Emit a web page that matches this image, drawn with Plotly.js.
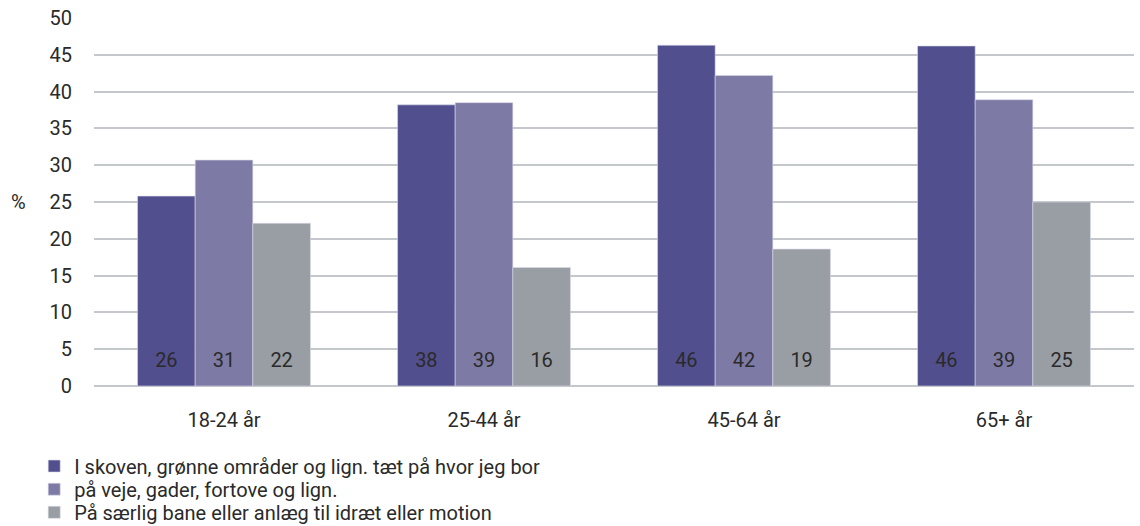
<!DOCTYPE html>
<html><head><meta charset="utf-8">
<script src="https://cdn.plot.ly/plotly-3.0.1.min.js"></script>
<style>html,body{margin:0;padding:0;background:#fff}#chart{width:1140px;height:526px}</style>
</head><body><div id="chart"></div>
<script>
var categories = ["18-24 år", "25-44 år", "45-64 år", "65+ år"];
var seriesNames = [
  "I skoven, grønne områder og lign. tæt på hvor jeg bor",
  "på veje, gader, fortove og lign.",
  "På særlig bane eller anlæg til idræt eller motion"
];
var skoven = [25.8, 38.2, 46.3, 46.2];
var veje = [30.7, 38.5, 42.2, 38.9];
var bane = [22.1, 16.1, 18.6, 25.0];
var labelsSkoven = ["26", "38", "46", "46"];
var labelsVeje = ["31", "39", "42", "39"];
var labelsBane = ["22", "16", "19", "25"];
var yTicks = [0, 5, 10, 15, 20, 25, 30, 35, 40, 45, 50];
var labelLevel = 3.3;

var colors = ["#524f8f", "#7e7aa6", "#999ea4"];
var values = [skoven, veje, bane];
var labels = [labelsSkoven, labelsVeje, labelsBane];
var legendIds = ["legend", "legend2", "legend3"];
var legendY = [0.114, 0.070, 0.026];
var fontFam = "Roboto, 'Open Sans', sans-serif";
var fs = 20;
var txtColor = "#2a2a2a";

var traces = [];
for (var i = 0; i < 3; i++) {
  traces.push({
    type: "bar", x: categories, y: values[i], name: seriesNames[i],
    legend: legendIds[i],
    marker: {color: colors[i], line: {color: "#d8d8e8", width: 0.6}},
    hoverinfo: "y"
  });
}
for (var i = 0; i < 3; i++) {
  traces.push({
    type: "scatter", mode: "text", x: categories,
    y: categories.map(function(){ return labelLevel; }),
    text: labels[i], textposition: "middle center",
    textfont: {family: fontFam, size: fs, color: txtColor},
    showlegend: false, hoverinfo: "skip", cliponaxis: false
  });
}

var layout = {
  width: 1140, height: 526,
  margin: {l: 94, r: 6, t: 18, b: 140, autoexpand: false},
  paper_bgcolor: "#fff", plot_bgcolor: "#fff",
  font: {family: fontFam, size: fs, color: txtColor},
  barmode: "group", bargap: 0.335, bargroupgap: 0,
  scattermode: "group", scattergap: 0.335,
  xaxis: {type: "category", showgrid: false, zeroline: false, showline: false,
          ticks: "", tickfont: {size: fs, color: txtColor}, ticklabelstandoff: 20,
          automargin: false},
  yaxis: {range: [0, 50], tickvals: yTicks, ticktext: yTicks.map(String),
          showgrid: true, gridcolor: "#c4c7cc", gridwidth: 2,
          zeroline: true, zerolinecolor: "#c4c7cc", zerolinewidth: 2,
          showline: false, ticks: "outside", ticklen: 17, tickcolor: "rgba(0,0,0,0)",
          tickfont: {size: fs, color: txtColor}, fixedrange: true, automargin: false},
  annotations: [{text: "%", xref: "paper", yref: "y", x: 0, y: 25, xanchor: "right",
                 xshift: -66, showarrow: false, font: {size: fs, color: txtColor}}],
  showlegend: true
};
for (var i = 0; i < 3; i++) {
  layout[legendIds[i]] = {
    orientation: "v", xref: "container", yref: "container",
    x: 0.03, xanchor: "left", y: legendY[i], yanchor: "middle",
    font: {size: fs, color: txtColor}, itemwidth: 30,
    bgcolor: "rgba(0,0,0,0)", borderwidth: 0
  };
}
Plotly.newPlot("chart", traces, layout, {displayModeBar: false, staticPlot: true});
</script></body></html>
